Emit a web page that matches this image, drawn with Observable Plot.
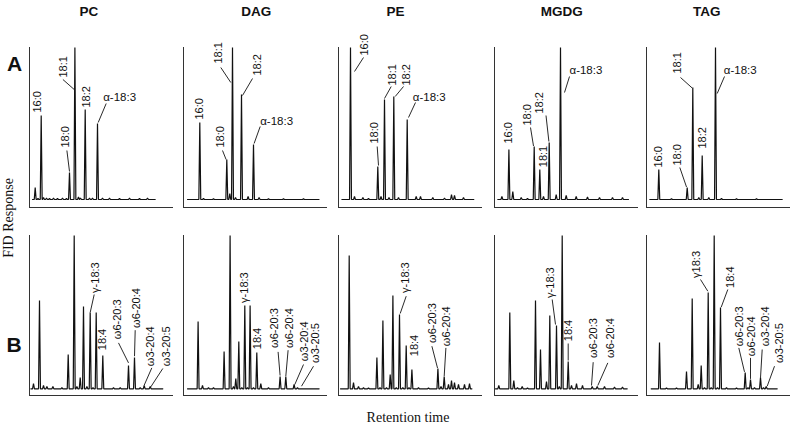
<!DOCTYPE html>
<html>
<head>
<meta charset="utf-8">
<script src="https://cdn.jsdelivr.net/npm/d3@7"></script>
<script src="https://cdn.jsdelivr.net/npm/@observablehq/plot@0.6"></script>
<style>
  html, body { margin: 0; padding: 0; background: #fff; }
  #chart { position: relative; width: 792px; height: 428px; background: #fff; overflow: hidden; }
  .ttl { position: absolute; font-family: Arial, "Liberation Sans", sans-serif; font-weight: bold; color: #111; transform: translate(-50%, -50%); white-space: nowrap; }
  .ser { position: absolute; font-family: "Times New Roman", "Liberation Serif", serif; color: #111; white-space: nowrap; }
  .pnl { position: absolute; }
  .pnl svg { max-width: none !important; display: block; }
</style>
</head>
<body>
<div id="chart"></div>
<script>
// ---------- data (retention in arbitrary units 0–144, FID response 0–160) ----------
const lipidClasses = ["PC", "DAG", "PE", "MGDG", "TAG"];
const rowNames = ["A", "B"];
const baselineA = 8;
const baselineB = 6.7;

// [retention, response at peak top]
const pcA = [[5.7,20],[8.5,9],[11.7,92],[14,10],[17,9.5],[20,9],[24,9.5],[28,9],[33,9.5],[37,9],[40,35],[45.4,160],[49,10.5],[51,9.5],[55.7,98],[60,9.5],[63,9.5],[68,84],[73,9.5],[80,9.5],[90,9],[100,9.5],[110,9],[118,9.5]];
const dagA = [[16.3,85],[20,9],[30,8.8],[43.3,48],[46.3,14],[49,160],[52,10],[58,113],[64.6,11],[70,63],[75.6,10],[85,8.8],[100,8.8],[120,8.8]];
const peA = [[12,160],[16,11],[24.4,10],[30,9],[39.3,41],[42.5,11],[46,108],[50.5,10],[55.3,111],[60,10],[68.7,88],[77.7,11],[82,11],[94.3,10],[106,9.5],[113,13],[116,12],[125,10]];
const mgdgA = [[7.4,11],[14.4,58],[18.3,16],[26.7,10],[33,9],[39.7,61],[45.3,38],[49,11],[54.7,65],[61.7,13],[66,160],[71.7,12],[81.7,11],[93,10.5],[105,10],[118,10],[128,10]];
const tagA = [[12.3,38],[25,8.8],[40.7,20],[46.3,120],[52.3,10],[55.7,52],[62.3,10],[69,160],[75,9],[90,8.8],[110,8.8]];

const pcB = [[4,12],[10,95],[14,10],[17.4,9],[23.4,9],[32.4,8],[38.7,41],[44.7,160],[47.4,9],[50.7,18],[54,89],[57.4,9],[60.7,83],[63.5,8],[66.7,83],[73.3,40],[84,8],[90.7,8],[99,30],[105,38],[110.7,8],[114.7,10],[120.7,9]];
const dagB = [[14.6,74],[19,10],[25,8],[30,8],[40.6,44],[46.6,160],[50,9],[52.3,17],[55.3,54],[58.3,8],[61.3,90],[64,8],[66.6,90],[70,8],[73.3,43],[77.3,12],[85,8],[96.6,19],[102.3,19],[110.6,11],[114,8]];
const peB = [[10.7,140],[15,13],[20,9],[25,8],[30,7.5],[38.4,38],[41.5,8],[44.4,75],[48,8],[51.7,21],[54.4,100],[57.8,8],[61,81],[64.3,8],[67.7,50],[70.5,8],[73.4,26],[80,8],[90,7.5],[99.4,27],[102.5,9],[105.7,19],[110,11],[113,15],[116,13],[120,11],[126,11],[131,12]];
const mgdgB = [[4.3,10],[15.3,83],[19.3,15],[23,8],[27.7,9],[33,7.5],[41,95],[46,46],[52,14],[55.3,80],[62,70],[64.8,9],[67.7,160],[73.7,34],[77,10],[82,12],[88,10],[97.7,9],[102.7,9],[110,9],[120,8.5],[128,8.5]];
const tagB = [[13,53],[20,7.5],[30,7.5],[40,24],[45.7,97],[51.7,11],[54.7,30],[58,8],[61.7,103],[64.7,8],[67.7,160],[71,8],[74,88],[80,8],[90,7.5],[98.7,23],[101.5,8],[104,16],[108,8],[114,18],[117,8],[119.7,9]];

// trace start / end retention
const spansA = [[3,125.7],[4,135.5],[3.4,135.3],[3.3,134],[3.3,135.7]];
const spansB = [[1.4,133.3],[4,135.6],[2,133.4],[1,132.7],[4.7,130.7]];

// peak labels: [text, retention, response, orientation, leader from (ret, resp) to (ret, resp)]
const pcALabels = [
  ["16:0", 8.4, 95, "v"],
  ["18:0", 36.4, 60, "v", 37.4, 57, 40, 36],
  ["18:1", 34, 130, "v", 33.4, 128, 44.7, 118],
  ["18:2", 56.7, 100, "v"],
  ["α-18:3", 73.7, 110, "h", 76.7, 104, 68.7, 85]
];
const dagALabels = [
  ["16:0", 16.3, 88, "v"],
  ["18:0", 37.3, 60, "v", 39, 57, 42.6, 48],
  ["18:1", 34.7, 144, "v", 37.3, 140, 47.3, 125],
  ["18:2", 73.7, 132, "v", 69, 129, 59, 112],
  ["α-18:3", 76.7, 86, "h", 76.7, 81, 70.6, 64]
];
const peALabels = [
  ["16:0", 25.7, 152, "v", 25, 150, 16, 136],
  ["18:0", 36, 64, "v", 38.7, 61, 40, 42],
  ["18:1", 54.3, 122, "v", 52.7, 121, 46, 109],
  ["18:2", 68.3, 122, "v", 65, 121, 56.7, 111],
  ["α-18:3", 74.3, 110, "h", 77, 105, 70, 90]
];
const mgdgALabels = [
  ["16:0", 13.7, 64, "v"],
  ["18:0", 33.4, 82, "v", 36, 80, 39, 61.5],
  ["18:2", 45.4, 94, "v", 51.5, 92, 54.4, 66],
  ["18:1", 48.7, 40.3, "v"],
  ["α-18:3", 75, 137, "h", 75, 131, 70, 115]
];
const tagALabels = [
  ["16:0", 11.7, 40, "v"],
  ["18:0", 31.3, 42, "v", 33.3, 40, 40, 20.5],
  ["18:1", 31.3, 134, "v", 34, 130, 45.7, 119.5],
  ["18:2", 56, 59, "v"],
  ["α-18:3", 77.3, 137, "h", 78, 131, 70.7, 114]
];
const pcBLabels = [
  ["γ-18:3", 65.7, 102.6, "v", 64.7, 101, 60.7, 83],
  ["18:4", 73.3, 45.3, "v"],
  ["ω6-20:3", 87.7, 56.3, "v", 89, 52.6, 99, 32.6],
  ["ω6-20:4", 107.3, 67.6, "v", 105.7, 65.3, 105, 39.3],
  ["ω3-20:4", 121, 29.3, "v", 122.3, 27.6, 114.7, 10.3],
  ["ω3-20:5", 137, 29.3, "v", 133.3, 27, 121.3, 8.6]
];
const dagBLabels = [
  ["γ-18:3", 61.3, 92.6, "v"],
  ["18:4", 74, 46.3, "v"],
  ["ω6-20:3", 91.3, 47.6, "v", 94.6, 43.6, 96.6, 20],
  ["ω6-20:4", 105.6, 47.6, "v", 104.6, 45.3, 102.3, 19.3],
  ["ω3-20:4", 120.6, 34.3, "v", 120, 31, 111.3, 11],
  ["ω3-20:5", 132.3, 32.6, "v", 130, 29.3, 118, 9.3]
];
const peBLabels = [
  ["γ-18:3", 66.7, 102.6, "v", 67.7, 99.3, 61.7, 82],
  ["18:4", 75.7, 39.3, "v"],
  ["ω6-20:3", 93.7, 52.6, "v", 93.4, 49.3, 99, 27.5],
  ["ω6-20:4", 108, 49.3, "v", 107.4, 47.6, 105.7, 19.3]
];
const mgdgBLabels = [
  ["γ-18:3", 55.7, 97.6, "v", 57.7, 96, 61, 71],
  ["18:4", 74.3, 54.3, "v", 73.7, 52, 73.7, 35],
  ["ω6-20:3", 99.3, 37.6, "v", 98.7, 33.3, 97, 10],
  ["ω6-20:4", 116, 37.6, "v", 113.3, 32.6, 103.3, 10]
];
const tagBLabels = [
  ["γ18:3", 50.3, 117.6, "v", 54, 116, 61.3, 104.3],
  ["18:4", 83.7, 107.6, "v", 81.3, 106, 74.7, 88.3],
  ["ω6-20:3", 92.7, 49.3, "v", 92.3, 47.6, 98, 23.6],
  ["ω6-20:4", 105.3, 39.3, "v", 104, 37.6, 104, 16.6],
  ["ω3-20:4", 119.3, 49.3, "v", 115.7, 46, 114, 17.7],
  ["ω3-20:5", 132.7, 32.6, "v", 128, 29.3, 120.7, 9.3]
];

const peaksA = [pcA, dagA, peA, mgdgA, tagA];
const peaksB = [pcB, dagB, peB, mgdgB, tagB];
const labelsA = [pcALabels, dagALabels, peALabels, mgdgALabels, tagALabels];
const labelsB = [pcBLabels, dagBLabels, peBLabels, mgdgBLabels, tagBLabels];

// ---------- layout ----------
const panelLeft = [29.3, 182.7, 337.8, 493.5, 646];
const rowTop = [47, 235];
const titleX = [88.8, 256.3, 395.5, 561.7, 706.7];
const PW = 144, PH = 160, mL = 14, mR = 14, mT = 24, mB = 4;
const HW = 0.95; // half width of a peak, retention units

const root = document.getElementById("chart");

function trace(peaks, span, base) {
  const pts = [[span[0], base]];
  for (const [x, top] of peaks.slice().sort((a, b) => a[0] - b[0])) {
    pts.push([x - HW, base], [x, top], [x + HW, base]);
  }
  pts.push([span[1], base]);
  return pts;
}

function panel(peaks, span, base, labels) {
  const pts = trace(peaks, span, base);
  const vl = labels.filter(d => d[3] === "v");
  const hl = labels.filter(d => d[3] === "h");
  const leaders = labels.filter(d => d.length > 4);
  return Plot.plot({
    width: PW + mL + mR,
    height: PH + mT + mB,
    marginLeft: mL, marginRight: mR, marginTop: mT, marginBottom: mB,
    x: {domain: [0, PW], axis: null},
    y: {domain: [0, PH], axis: null},
    style: {background: "transparent", overflow: "visible", maxWidth: "none", fontFamily: "Arial, 'Liberation Sans', sans-serif"},
    marks: [
      Plot.ruleX([0], {x: d => d, y1: () => 0, y2: () => PH, stroke: "#333", strokeWidth: 1}),
      Plot.ruleY([0], {y: d => d, x1: () => 0, x2: () => PW, stroke: "#333", strokeWidth: 1}),
      Plot.line(pts, {x: d => d[0], y: d => d[1], stroke: "#111", strokeWidth: 1.2, strokeLinejoin: "miter"}),
      Plot.link(leaders, {x1: d => d[4], y1: d => d[5], x2: d => d[6], y2: d => d[7], stroke: "#111", strokeWidth: 0.9}),
      Plot.text(vl, {x: d => d[1], y: d => d[2], text: d => d[0], rotate: -90, textAnchor: "start", fontSize: 11, fill: "#111"}),
      Plot.text(hl, {x: d => d[1], y: d => d[2], text: d => d[0], textAnchor: "start", fontSize: 11.5, fill: "#111"})
    ]
  });
}

function place(el, left, top) {
  const d = document.createElement("div");
  d.className = "pnl";
  d.style.left = left + "px";
  d.style.top = top + "px";
  d.style.width = (PW + mL + mR) + "px";
  d.style.height = (PH + mT + mB) + "px";
  d.appendChild(el);
  root.appendChild(d);
}

[peaksA, peaksB].forEach((rowPeaks, r) => {
  const spans = r === 0 ? spansA : spansB;
  const base = r === 0 ? baselineA : baselineB;
  const labs = r === 0 ? labelsA : labelsB;
  rowPeaks.forEach((pk, i) => {
    place(panel(pk, spans[i], base, labs[i]), panelLeft[i] - mL, rowTop[r] - mT);
  });
});

function addText(cls, text, styles) {
  const d = document.createElement("div");
  d.className = cls;
  d.textContent = text;
  Object.assign(d.style, styles);
  root.appendChild(d);
  return d;
}

lipidClasses.forEach((name, i) => {
  addText("ttl", name, {left: titleX[i] + "px", top: "11px", fontSize: "13.5px"});
});
addText("ttl", rowNames[0], {left: "14.5px", top: "64px", fontSize: "21px"});
addText("ttl", rowNames[1], {left: "14px", top: "345px", fontSize: "21px"});
addText("ser", "FID Response", {left: "9px", top: "218px", fontSize: "14px", transform: "translate(-50%, -50%) rotate(-90deg)"});
addText("ser", "Retention time", {left: "408px", top: "418px", fontSize: "14px", transform: "translate(-50%, -50%)"});
</script>
</body>
</html>
